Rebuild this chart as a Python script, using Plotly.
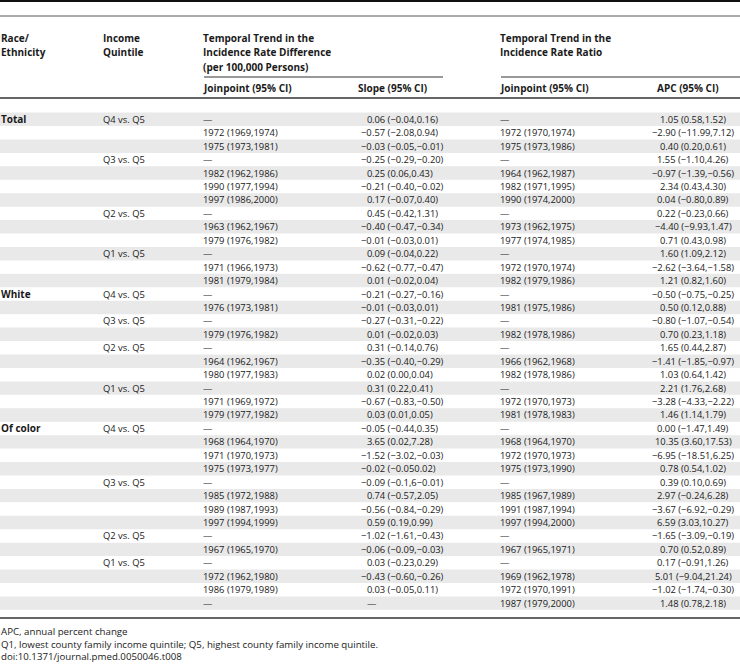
import plotly.graph_objects as go

# ---------------- data ----------------
race = ["Total"] + [""] * 12 + ["White"] + [""] * 9 + ["Of color"] + [""] * 13

quintile = ["Q4 vs. Q5", "", "", "Q3 vs. Q5", "", "", "", "Q2 vs. Q5", "", "", "Q1 vs. Q5", "", "",
            "Q4 vs. Q5", "", "Q3 vs. Q5", "", "Q2 vs. Q5", "", "", "Q1 vs. Q5", "", "",
            "Q4 vs. Q5", "", "", "", "Q3 vs. Q5", "", "", "", "Q2 vs. Q5", "", "Q1 vs. Q5", "", "", ""]

jp_diff = ["—", "1972 (1969,1974)", "1975 (1973,1981)",
           "—", "1982 (1962,1986)", "1990 (1977,1994)", "1997 (1986,2000)",
           "—", "1963 (1962,1967)", "1979 (1976,1982)",
           "—", "1971 (1966,1973)", "1981 (1979,1984)",
           "—", "1976 (1973,1981)",
           "—", "1979 (1976,1982)",
           "—", "1964 (1962,1967)", "1980 (1977,1983)",
           "—", "1971 (1969,1972)", "1979 (1977,1982)",
           "—", "1968 (1964,1970)", "1971 (1970,1973)", "1975 (1973,1977)",
           "—", "1985 (1972,1988)", "1989 (1987,1993)", "1997 (1994,1999)",
           "—", "1967 (1965,1970)",
           "—", "1972 (1962,1980)", "1986 (1979,1989)", "—"]

slope = ["0.06 (−0.04,0.16)", "−0.57 (−2.08,0.94)", "−0.03 (−0.05,−0.01)",
         "−0.25 (−0.29,−0.20)", "0.25 (0.06,0.43)", "−0.21 (−0.40,−0.02)", "0.17 (−0.07,0.40)",
         "0.45 (−0.42,1.31)", "−0.40 (−0.47,−0.34)", "−0.01 (−0.03,0.01)",
         "0.09 (−0.04,0.22)", "−0.62 (−0.77,−0.47)", "0.01 (−0.02,0.04)",
         "−0.21 (−0.27,−0.16)", "−0.01 (−0.03,0.01)",
         "−0.27 (−0.31,−0.22)", "0.01 (−0.02,0.03)",
         "0.31 (−0.14,0.76)", "−0.35 (−0.40,−0.29)", "0.02 (0.00,0.04)",
         "0.31 (0.22,0.41)", "−0.67 (−0.83,−0.50)", "0.03 (0.01,0.05)",
         "−0.05 (−0.44,0.35)", "3.65 (0.02,7.28)", "−1.52 (−3.02,−0.03)", "−0.02 (−0.050.02)",
         "−0.09 (−0.1,6−0.01)", "0.74 (−0.57,2.05)", "−0.56 (−0.84,−0.29)", "0.59 (0.19,0.99)",
         "−1.02 (−1.61,−0.43)", "−0.06 (−0.09,−0.03)",
         "0.03 (−0.23,0.29)", "−0.43 (−0.60,−0.26)", "0.03 (−0.05,0.11)", "—"]

jp_ratio = ["—", "1972 (1970,1974)", "1975 (1973,1986)",
            "—", "1964 (1962,1987)", "1982 (1971,1995)", "1990 (1974,2000)",
            "—", "1973 (1962,1975)", "1977 (1974,1985)",
            "—", "1972 (1970,1974)", "1982 (1979,1986)",
            "—", "1981 (1975,1986)",
            "—", "1982 (1978,1986)",
            "—", "1966 (1962,1968)", "1982 (1978,1986)",
            "—", "1972 (1970,1973)", "1981 (1978,1983)",
            "—", "1968 (1964,1970)", "1972 (1970,1973)", "1975 (1973,1990)",
            "—", "1985 (1967,1989)", "1991 (1987,1994)", "1997 (1994,2000)",
            "—", "1967 (1965,1971)",
            "—", "1969 (1962,1978)", "1972 (1970,1991)", "1987 (1979,2000)"]

apc = ["1.05 (0.58,1.52)", "−2.90 (−11.99,7.12)", "0.40 (0.20,0.61)",
       "1.55 (−1.10,4.26)", "−0.97 (−1.39,−0.56)", "2.34 (0.43,4.30)", "0.04 (−0.80,0.89)",
       "0.22 (−0.23,0.66)", "−4.40 (−9.93,1.47)", "0.71 (0.43,0.98)",
       "1.60 (1.09,2.12)", "−2.62 (−3.64,−1.58)", "1.21 (0.82,1.60)",
       "−0.50 (−0.75,−0.25)", "0.50 (0.12,0.88)",
       "−0.80 (−1.07,−0.54)", "0.70 (0.23,1.18)",
       "1.65 (0.44,2.87)", "−1.41 (−1.85,−0.97)", "1.03 (0.64,1.42)",
       "2.21 (1.76,2.68)", "−3.28 (−4.33,−2.22)", "1.46 (1.14,1.79)",
       "0.00 (−1.47,1.49)", "10.35 (3.60,17.53)", "−6.95 (−18.51,6.25)", "0.78 (0.54,1.02)",
       "0.39 (0.10,0.69)", "2.97 (−0.24,6.28)", "−3.67 (−6.92,−0.29)", "6.59 (3.03,10.27)",
       "−1.65 (−3.09,−0.19)", "0.70 (0.52,0.89)",
       "0.17 (−0.91,1.26)", "5.01 (−9.04,21.24)", "−1.02 (−1.74,−0.30)", "1.48 (0.78,2.18)"]

header_race = ["Race/", "Ethnicity"]
header_quint = ["Income", "Quintile"]
header_diff = ["Temporal Trend in the", "Incidence Rate Difference", "(per 100,000 Persons)"]
header_ratio = ["Temporal Trend in the", "Incidence Rate Ratio"]
sub_headers = ["Joinpoint (95% CI)", "Slope (95% CI)", "Joinpoint (95% CI)", "APC (95% CI)"]
footnotes = ["APC, annual percent change",
             "Q1, lowest county family income quintile; Q5, highest county family income quintile.",
             "doi:10.1371/journal.pmed.0050046.t008"]

# ---------------- layout constants ----------------
W, H = 740, 667
FONT = "Open Sans"
TXT = "#1a1a1a"
BODY = 9.4
HEAD = 10
ROW_Y0 = 119.3
ROW_H = 13.44
X_RACE, X_QUINT, X_JP1, X_DEC, X_JP2, X_APC = 1, 103, 203, 372, 500, 693
STRIPE = "#e9e9e9"

fig = go.Figure()
fig.add_trace(go.Scatter(x=[0], y=[0], mode="markers", marker=dict(opacity=0), hoverinfo="skip"))

ann = []
shapes = []


def txt(x, y, s, anchor="left", bold=False, size=BODY, yanchor="middle"):
    ann.append(dict(x=x, y=y, xref="x", yref="y", text=("<b>%s</b>" % s) if bold else s,
                    showarrow=False, xanchor=anchor, yanchor=yanchor, align="left",
                    borderpad=0, borderwidth=0,
                    font=dict(family=FONT, size=size, color=TXT)))


def hline(y, x0, x1, color, width):
    shapes.append(dict(type="line", xref="x", yref="y", x0=x0, x1=x1, y0=y, y1=y,
                       line=dict(color=color, width=width)))


# rules
hline(1, 0, W, "#111111", 2)
hline(16, 0, W, "#555555", 1)
hline(77, 204, 443, "#333333", 1)
hline(77, 501, W, "#333333", 1)
hline(98, 0, W, "#666666", 2)
hline(618, 0, W, "#666666", 2)

# headers
head_y = [38, 52, 66.5]
for i, s in enumerate(header_race):
    txt(X_RACE, head_y[i], s, bold=True, size=HEAD)
for i, s in enumerate(header_quint):
    txt(X_QUINT, head_y[i], s, bold=True, size=HEAD)
for i, s in enumerate(header_diff):
    txt(X_JP1, head_y[i], s, bold=True, size=HEAD)
for i, s in enumerate(header_ratio):
    txt(X_JP2, head_y[i], s, bold=True, size=HEAD)
for x, s in zip([X_JP1, 358, X_JP2, 657], sub_headers):
    txt(x, 87.5, s, bold=True, size=HEAD)

# body rows
n = len(jp_diff)
for i in range(n):
    y = ROW_Y0 + i * ROW_H
    if i % 2 == 0:
        shapes.append(dict(type="rect", xref="x", yref="y", x0=0, x1=W,
                           y0=y - ROW_H / 2, y1=y + ROW_H / 2,
                           fillcolor=STRIPE, line=dict(width=0), layer="below"))
    if race[i]:
        txt(X_RACE, y, race[i], bold=True, size=HEAD)
    if quintile[i]:
        txt(X_QUINT, y, quintile[i])
    txt(X_JP1, y, jp_diff[i])
    s = slope[i]
    k = s.find(".")
    if k < 0:
        txt(X_DEC + 4, y, s, anchor="right")
    else:
        txt(X_DEC, y, s[:k], anchor="right")
        txt(X_DEC, y, s[k:], anchor="left")
    txt(X_JP2, y, jp_ratio[i])
    txt(X_APC, y, apc[i], anchor="center")

# footnotes (one multi-line block)
txt(X_RACE, 624.5, "<br>".join(footnotes), size=9.7, yanchor="top")

fig.update_layout(
    width=W, height=H, margin=dict(l=0, r=0, t=0, b=0),
    paper_bgcolor="white", plot_bgcolor="white", showlegend=False,
    xaxis=dict(range=[0, W], visible=False, fixedrange=True),
    yaxis=dict(range=[H, 0], visible=False, fixedrange=True),
    annotations=ann, shapes=shapes,
)

fig.write_html(
    "out.html",
    config={"displayModeBar": False},
    post_script="document.body.style.margin='0';document.body.style.overflow='hidden';",
)
